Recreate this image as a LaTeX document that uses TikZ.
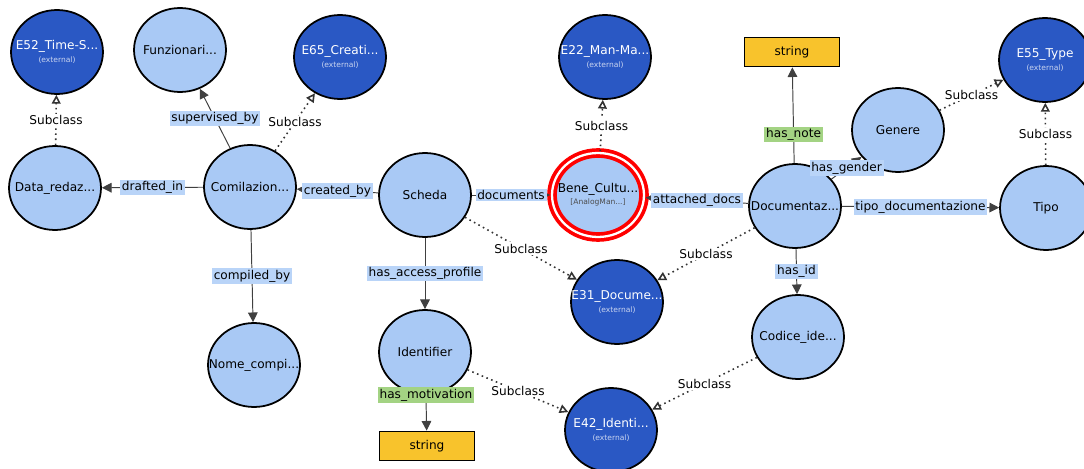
\documentclass[tikz,border=0pt]{standalone}
\usepackage{fontspec}
\setmainfont{DejaVu Sans}
\usetikzlibrary{arrows.meta}
\usetikzlibrary{shapes.geometric}

\definecolor{clslight}{HTML}{A9C9F5}
\definecolor{clsdark}{HTML}{2A58C4}
\definecolor{proplab}{HTML}{B9D4F8}
\definecolor{dproplab}{HTML}{A3D383}
\definecolor{litbox}{HTML}{F8C32C}

\newcommand{\extnote}{\\[-1pt]{\fontsize{4.3}{4.3}\selectfont\color{white!75!clsdark}(external)}}

\begin{document}
\begin{tikzpicture}[x=0.02cm,y=-0.02cm,font=\fontsize{6.9}{8}\selectfont,
  cls/.style={ellipse, draw=black, line width=1pt, fill=clslight,
    minimum width=1.84cm, minimum height=1.68cm, inner sep=0pt},
  ext/.style={cls, fill=clsdark},
  focus/.style={cls, draw=red, double=white, double distance=1.3pt, line width=2.1pt},
  txt/.style={align=center, inner sep=0pt},
  exttxt/.style={txt, text=white},
  lit/.style={rectangle, draw=black, line width=1pt, fill=litbox,
    minimum width=1.9cm, minimum height=0.58cm},
  rel/.style={draw=black!75, line width=0.55pt, -{Triangle[length=5.5pt,width=5.5pt]}},
  subof/.style={draw=black!80, dotted, line width=0.9pt, -{Triangle[open,length=5pt,width=5pt]}},
  plab/.style={fill=proplab, inner sep=1pt},
  dlab/.style={fill=dproplab, inner sep=1pt},
  slab/.style={fill=white, inner sep=1pt}]

\useasboundingbox (0,0) rectangle (1084,469);

% classes
\node[ext, label={[exttxt]center:E52\_Time-S...\extnote}] (e52) at (57,52) {};
\node[cls, label={[txt]center:Funzionari...}] (funz) at (180,50) {};
\node[ext, label={[exttxt]center:E65\_Creati...\extnote}] (e65) at (340,57) {};
\node[cls, label={[txt]center:Data\_redaz...}] (data) at (55,188) {};
\node[cls, label={[txt]center:Comilazion...}] (comil) at (250,187) {};
\node[cls, label={[txt]center:Nome\_compi...}] (nome) at (254,365) {};
\node[cls, label={[txt]center:Scheda}] (scheda) at (425,195) {};
\node[cls, label={[txt]center:Identifier}] (ident) at (425,352) {};
\node[lit] (str2) at (427,446) {string};
\node[focus, label={[txt]center:Bene\_Cultu...\\[-1pt]{\fontsize{4.3}{4.3}\selectfont\color{black!70}[AnalogMan...]}}] (bene) at (598,195) {};
\node[ext, label={[exttxt]center:E22\_Man-Ma...\extnote}] (e22) at (605,57) {};
\node[ext, label={[exttxt]center:E31\_Docume...\extnote}] (e31) at (617,302) {};
\node[ext, label={[exttxt]center:E42\_Identi...\extnote}] (e42) at (611,430) {};
\node[cls, label={[txt]center:Documentaz...}] (docum) at (795,206) {};
\node[lit] (str1) at (792,52) {string};
\node[cls, label={[txt]center:Codice\_ide...}] (codice) at (798,337) {};
\node[cls, label={[txt]center:Genere}] (genere) at (898,130) {};
\node[ext, label={[exttxt]center:E55\_Type\extnote}] (e55) at (1045,60) {};
\node[cls, label={[txt]center:Tipo}] (tipo) at (1046,208) {};

% subclass links
\draw[subof] (data) -- node[slab] {Subclass} (e52);
\draw[subof] (comil) -- node[slab] {Subclass} (e65);
\draw[subof] (bene) -- node[slab] {Subclass} (e22);
\draw[subof] (scheda) -- node[slab] {Subclass} (e31);
\draw[subof] (ident) -- node[slab] {Subclass} (e42);
\draw[subof] (docum) -- node[slab] {Subclass} (e31);
\draw[subof] (codice) -- node[slab] {Subclass} (e42);
\draw[subof] (genere) -- node[slab] {Subclass} (e55);
\draw[subof] (tipo) -- node[slab] {Subclass} (e55);

% object properties
\draw[rel] (comil) -- node[plab] {supervised\_by} (funz);
\draw[rel] (comil) -- node[plab] {drafted\_in} (data);
\draw[rel] (scheda) -- node[plab] {created\_by} (comil);
\draw[rel] (comil) -- node[plab] {compiled\_by} (nome);
\draw[rel] (scheda) -- node[plab] {documents} (bene);
\draw[rel] (scheda) -- node[plab] {has\_access\_profile} (ident);
\draw[rel] (docum) -- node[plab] {attached\_docs} (bene);
\draw[rel] (docum) -- node[plab] {has\_gender} (genere);
\draw[rel] (docum) -- node[plab] {tipo\_documentazione} (tipo);
\draw[rel] (docum) -- node[plab] {has\_id} (codice);

% datatype properties
\draw[rel] (ident) -- node[dlab,pos=0] {has\_motivation} (str2);
\draw[rel] (docum) -- node[dlab,pos=0.3] {has\_note} (str1);

\end{tikzpicture}
\end{document}
